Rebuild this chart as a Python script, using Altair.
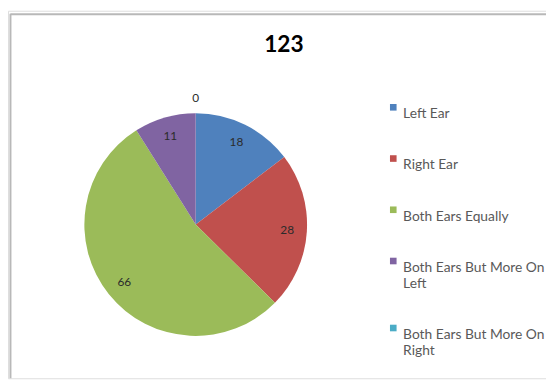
import altair as alt
import pandas as pd

categories = ["Left Ear", "Right Ear", "Both Ears Equally",
              "Both Ears But More On Left", "Both Ears But More On Right"]
values = [18, 28, 66, 11, 0]
colors = ["#4F81BD", "#C0504D", "#9BBB59", "#8064A2", "#4BACC6"]
title_text = "123"

df = pd.DataFrame({"category": categories, "value": values,
                   "order": list(range(len(categories)))})

FONT = "Lato"
CX, CY, R = 190.5, 217, 113

base = alt.Chart(df).encode(
    theta=alt.Theta("value:Q", stack=True),
    order=alt.Order("order:Q"),
)

pie = base.mark_arc(outerRadius=R).encode(
    x=alt.value(CX), y=alt.value(CY),
    color=alt.Color(
        "category:N",
        scale=alt.Scale(domain=categories, range=colors),
        sort=categories,
        legend=alt.Legend(
            title=None, orient="none", legendX=384, legendY=91,
            symbolType="square", symbolSize=45, symbolStrokeWidth=0,
            labelFont=FONT, labelFontSize=14, labelColor="#595959",
            labelLimit=220, rowPadding=31, labelOffset=3,
            labelExpr="length(datum.label) > 21 ? [slice(datum.label, 0, 21), slice(datum.label, 22)] : datum.label",
            labelBaseline="top",
        ),
    ),
)

labels = base.transform_calculate(
    r="datum.value == 0 ? 128 : 93"
).mark_text(font=FONT, fontSize=12, color="#2b2b2b").encode(
    x=alt.value(CX), y=alt.value(CY),
    radius=alt.Radius("r:Q", scale=None),
    text=alt.Text("value:Q"),
)

frame_data = alt.Data(values=[{"k": 1}])
left_line = alt.Chart(frame_data).mark_rule(color="#b8b8b8", strokeWidth=2).encode(
    x=alt.value(2.5), y=alt.value(3), y2=alt.value(373))
top_line = alt.Chart(frame_data).mark_rule(color="#b8b8b8", strokeWidth=2).encode(
    x=alt.value(2.5), x2=alt.value(546), y=alt.value(3.5))

chart = alt.layer(left_line, top_line, pie, labels).properties(
    width=546, height=373,
    autosize=alt.AutoSizeParams(type="none"),
    padding=0,
    title=alt.TitleParams(title_text, font=FONT, fontSize=23, fontWeight="bold",
                          color="#000000", anchor="middle", dx=7, dy=51),
).configure_view(stroke=None).configure(background="white")

chart.save("out.html", embed_options={"renderer": "svg", "actions": False})
